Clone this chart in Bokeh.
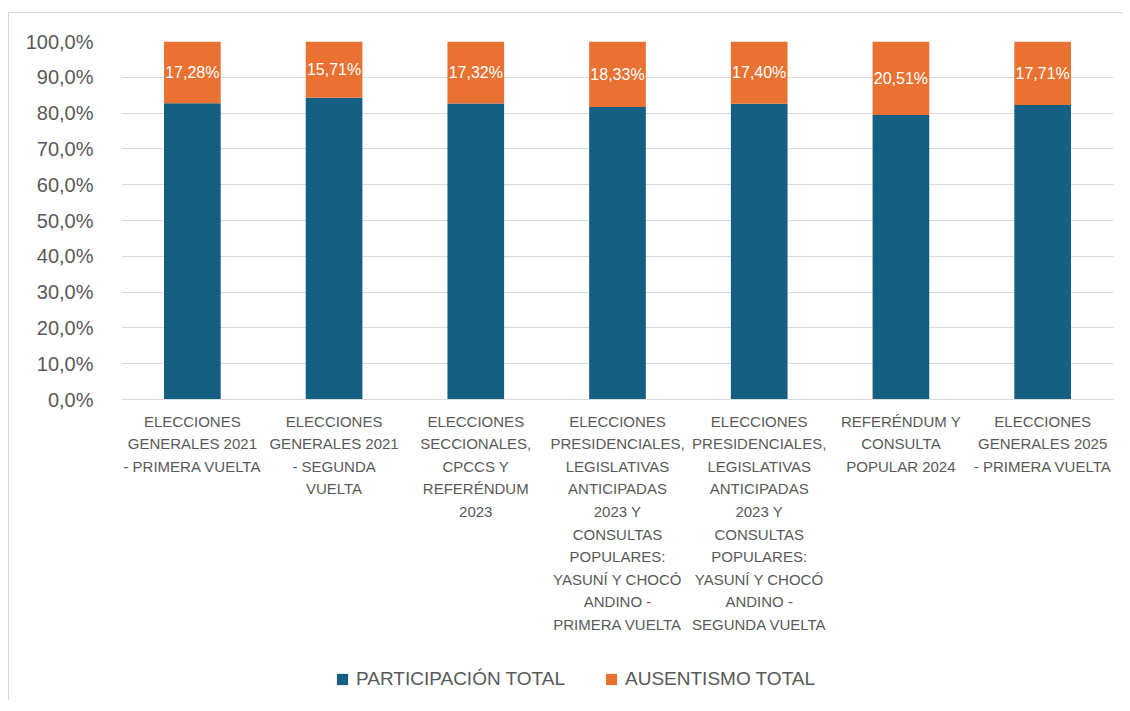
from bokeh.plotting import figure
from bokeh.layouts import column
from bokeh.models import (ColumnDataSource, LabelSet, Legend, LegendItem, FixedTicker,
                          CustomJSTickFormatter, FactorRange, Range1d)
from bokeh.core.properties import value
from bokeh.embed import file_html
from bokeh.resources import INLINE

categories = [
    "ELECCIONES\nGENERALES 2021\n- PRIMERA VUELTA",
    "ELECCIONES\nGENERALES 2021\n- SEGUNDA\nVUELTA",
    "ELECCIONES\nSECCIONALES,\nCPCCS Y\nREFERÉNDUM\n2023",
    "ELECCIONES\nPRESIDENCIALES,\nLEGISLATIVAS\nANTICIPADAS\n2023 Y\nCONSULTAS\nPOPULARES:\nYASUNÍ Y CHOCÓ\nANDINO -\nPRIMERA VUELTA",
    "ELECCIONES\nPRESIDENCIALES,\nLEGISLATIVAS\nANTICIPADAS\n2023 Y\nCONSULTAS\nPOPULARES:\nYASUNÍ Y CHOCÓ\nANDINO -\nSEGUNDA VUELTA",
    "REFERÉNDUM Y\nCONSULTA\nPOPULAR 2024",
    "ELECCIONES\nGENERALES 2025\n- PRIMERA VUELTA",
]
ausentismo = [17.28, 15.71, 17.32, 18.33, 17.40, 20.51, 17.71]
participacion = [round(100 - a, 2) for a in ausentismo]
ausentismo_labels = ["17,28%", "15,71%", "17,32%", "18,33%", "17,40%", "20,51%", "17,71%"]
series_names = ["PARTICIPACIÓN TOTAL", "AUSENTISMO TOTAL"]
y_ticks = [0, 10, 20, 30, 40, 50, 60, 70, 80, 90, 100]

BLUE = "#156082"
ORANGE = "#E97132"
TXT = "#595959"
GRID = "#D9D9D9"
FONT = "Liberation Sans"

src = ColumnDataSource(dict(
    cat=categories,
    part=participacion,
    aus=ausentismo,
    mid=[p + a / 2 for p, a in zip(participacion, ausentismo)],
    lab=ausentismo_labels,
))

p = figure(x_range=FactorRange(*categories, range_padding=0), y_range=(0, 100),
           frame_width=992, frame_height=358, output_backend="svg", toolbar_location=None,
           min_border_left=112, min_border_right=10, min_border_top=28, min_border_bottom=255)

rs = p.vbar_stack(["part", "aus"], x="cat", width=0.4, color=[BLUE, ORANGE],
                  line_color=None, source=src)

labels = LabelSet(x="cat", y="mid", text="lab", source=src, text_color="white",
                  text_font=value(FONT), text_font_size="16px", text_align="center",
                  text_baseline="middle")
p.add_layout(labels)

p.outline_line_color = None
p.xgrid.grid_line_color = None
p.ygrid.grid_line_color = GRID
p.ygrid.grid_line_width = 1

p.yaxis.ticker = FixedTicker(ticks=y_ticks)
p.yaxis.formatter = CustomJSTickFormatter(code="return tick.toFixed(1).replace('.', ',') + '%';")
p.yaxis.axis_line_color = None
p.yaxis.major_tick_line_color = None
p.yaxis.minor_tick_line_color = None
p.yaxis.major_label_text_font = FONT
p.yaxis.major_label_text_font_size = "20px"
p.yaxis.major_label_text_color = TXT
p.yaxis.major_label_standoff = 22

p.xaxis.axis_line_color = GRID
p.xaxis.major_tick_line_color = None
p.xaxis.minor_tick_line_color = None
p.xaxis.major_label_text_font = FONT
p.xaxis.major_label_text_font_size = "15px"
p.xaxis.major_label_text_color = TXT
p.xaxis.major_label_text_line_height = 1.33
p.xaxis.major_label_standoff = 7

# legend strip (its frame is aligned with the main plot's frame by the column layout)
p2 = figure(width=1114, height=46, x_range=Range1d(0, 1), y_range=Range1d(0, 1),
            x_axis_type=None, y_axis_type=None, output_backend="svg", toolbar_location=None,
            min_border=0)
p2.outline_line_color = None
p2.grid.grid_line_color = None
# swatch renderers kept outside the visible range; only their legend glyphs show
r_blue = p2.vbar(x=[5], top=[5], bottom=[4], width=0.1, color=BLUE, line_color=None)
r_orange = p2.vbar(x=[5], top=[5], bottom=[4], width=0.1, color=ORANGE, line_color=None)

legend = Legend(items=[LegendItem(label=series_names[0], renderers=[r_blue]),
                       LegendItem(label=series_names[1], renderers=[r_orange])],
                orientation="horizontal", location=(214, 10))
legend.padding = 0
legend.margin = 0
legend.border_line_color = None
legend.background_fill_alpha = 0
legend.glyph_width = 14
legend.glyph_height = 14
legend.label_standoff = 7
legend.spacing = 39
legend.label_text_font = FONT
legend.label_text_font_size = "19px"
legend.label_text_color = TXT
p2.add_layout(legend, "center")

layout = column(p, p2)
layout.styles = {"border-top": "1px solid #D9D9D9", "border-left": "1px solid #D9D9D9",
                 "margin-top": "12px", "margin-left": "8px"}

open("out.html", "w").write(file_html(layout, INLINE))
